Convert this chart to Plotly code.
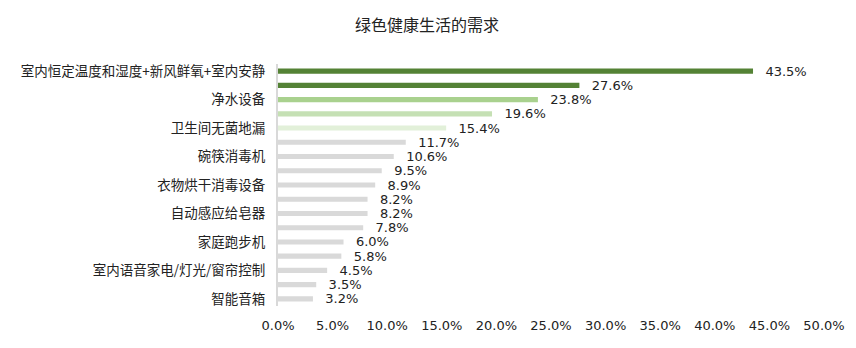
import plotly.graph_objects as go

# Share of respondents (%) for each green-living demand, top to bottom
values = [43.5, 27.6, 23.8, 19.6, 15.4, 11.7, 10.6, 9.5, 8.9,
          8.2, 8.2, 7.8, 6.0, 5.8, 4.5, 3.5, 3.2]

# Category labels printed on every other row
shown_labels = [
    "室内恒定温度和湿度+新风鲜氧+室内安静",
    "净水设备",
    "卫生间无菌地漏",
    "碗筷消毒机",
    "衣物烘干消毒设备",
    "自动感应给皂器",
    "家庭跑步机",
    "室内语音家电/灯光/窗帘控制",
    "智能音箱",
]

x_ticks = [0, 5, 10, 15, 20, 25, 30, 35, 40, 45, 50]

bar_colors = (["#548235", "#548235", "#A9D18E", "#C5E0B4", "#E2F0D9"]
              + ["#D9D9D9"] * (len(values) - 5))

rows = list(range(len(values)))
label_rows = rows[::2]

cjk_font = "Noto Sans CJK SC, Noto Sans, sans-serif"
num_font = "DejaVu Sans, Noto Sans CJK SC, sans-serif"
ink = "#222222"

fig = go.Figure(
    go.Bar(
        x=values,
        y=rows,
        orientation="h",
        marker=dict(color=bar_colors, line=dict(width=0)),
        text=[f"{v:.1f}%" for v in values],
        texttemplate="   %{text}",
        textposition="outside",
        constraintext="none",
        textfont=dict(size=13, color=ink, family=num_font),
        cliponaxis=False,
        hoverinfo="skip",
    )
)

fig.update_layout(
    width=856,
    height=348,
    margin=dict(l=278, r=32, t=64, b=42),
    paper_bgcolor="white",
    plot_bgcolor="white",
    bargap=0.64,
    showlegend=False,
    font=dict(family=cjk_font, size=13, color=ink),
    title=dict(
        text="绿色健康生活的需求",
        x=427 / 856,
        xanchor="center",
        y=1 - 25 / 348,
        yanchor="middle",
        font=dict(size=16, color=ink, family=cjk_font),
    ),
)

fig.update_xaxes(
    range=[0, 50],
    tickvals=x_ticks,
    ticktext=[f"{t:.1f}%" for t in x_ticks],
    showgrid=False,
    zeroline=False,
    showline=False,
    ticks="outside",
    ticklen=7,
    tickcolor="rgba(0,0,0,0)",
    tickfont=dict(size=13, color=ink, family=num_font),
)

fig.update_yaxes(
    range=[len(values) - 0.5, -0.5],
    tickvals=label_rows,
    ticktext=shown_labels,
    showgrid=False,
    zeroline=False,
    showline=True,
    linecolor="#D9D9D9",
    linewidth=2,
    ticks="outside",
    ticklen=8,
    tickcolor="rgba(0,0,0,0)",
    tickfont=dict(size=13.5, color=ink, family=cjk_font),
)

fig.write_html("out.html")
